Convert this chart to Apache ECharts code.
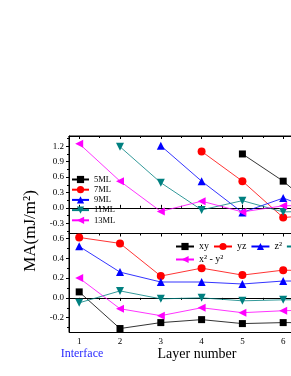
<!DOCTYPE html>
<html>
<head>
<meta charset="utf-8">
<script src="https://cdn.jsdelivr.net/npm/echarts@6/dist/echarts.min.js"></script>
<style>
html,body{margin:0;padding:0;background:#fff;overflow:hidden;}
#c{width:291px;height:376px;}
</style>
</head>
<body>
<div id="c"></div>
<script>
// ---- data ----
const layers = [1, 2, 3, 4, 5, 6, 7];
// top panel: MA per layer for each slab thickness
const ml5  = [null, null, null, null, 1.05, 0.52, -0.15];
const ml7  = [null, null, null, 1.10, 0.52, -0.19, -0.12];
const ml9  = [null, null, 1.21, 0.52, -0.09, 0.19, -0.10];
const ml11 = [null, 1.19, 0.49, -0.04, 0.14, -0.08, -0.06];
const ml13 = [1.25, 0.52, -0.07, 0.13, -0.08, 0.04, 0.05];
// bottom panel: orbital-resolved MA
const xy   = [0.06, -0.31, -0.25, -0.22, -0.26, -0.25, -0.25];
const yz   = [0.61, 0.55, 0.22, 0.30, 0.23, 0.28, 0.27];
const z2   = [0.52, 0.26, 0.16, 0.16, 0.14, 0.17, 0.17];
const xz   = [-0.05, 0.07, -0.01, 0.00, -0.03, -0.02, -0.02];
const x2y2 = [0.20, -0.11, -0.18, -0.10, -0.15, -0.13, -0.12];
// ticks
const xMajor = [1, 2, 3, 4, 5, 6, 7];
const xMinor = [1.5, 2.5, 3.5, 4.5, 5.5, 6.5];
const yTopMajor = [-0.3, 0.0, 0.3, 0.6, 0.9, 1.2];
const yTopMinor = [-0.45, -0.15, 0.15, 0.45, 0.75, 1.05, 1.35];
const yBotMajor = [-0.2, 0.0, 0.2, 0.4, 0.6];
const yBotMinor = [-0.3, -0.1, 0.1, 0.3, 0.5];

const FONT = 'Liberation Serif';
const pairs = arr => layers.map((x, i) => [x, arr[i]]).filter(p => p[1] !== null);

function xAxisSet(grid, showLabels, bottomInside) {
  const base = {type: 'value', gridIndex: grid, min: 0.75, max: 7.25,
    splitLine: {show: false}, axisLine: {show: true, lineStyle: {color: '#000', width: 1}}};
  return [
    Object.assign({}, base, {position: 'bottom',
      axisTick: {show: true, inside: bottomInside, length: 3, customValues: xMajor, lineStyle: {color: '#000'}},
      axisLabel: {show: showLabels, customValues: xMajor, fontFamily: FONT, fontSize: 9, color: '#000', margin: 5,
        formatter: v => String(v)}}),
    Object.assign({}, base, {position: 'bottom', axisLine: {show: false},
      axisTick: {show: true, inside: bottomInside, length: 2, customValues: xMinor, lineStyle: {color: '#000'}},
      axisLabel: {show: false}}),
    Object.assign({}, base, {position: 'top',
      axisTick: {show: true, inside: true, length: 3, customValues: xMajor, lineStyle: {color: '#000'}},
      axisLabel: {show: false}}),
    Object.assign({}, base, {position: 'top', axisLine: {show: false},
      axisTick: {show: true, inside: true, length: 2, customValues: xMinor, lineStyle: {color: '#000'}},
      axisLabel: {show: false}})
  ];
}
function yAxisSet(grid, min, max, major, minor, fmt) {
  const base = {type: 'value', gridIndex: grid, min: min, max: max, position: 'left',
    splitLine: {show: false}, axisLine: {show: true, lineStyle: {color: '#000', width: 1}}};
  return [
    Object.assign({}, base, {
      axisTick: {show: true, inside: false, length: 3, customValues: major, lineStyle: {color: '#000'}},
      axisLabel: {show: true, customValues: major, fontFamily: FONT, fontSize: 9, color: '#000', margin: 5,
        formatter: fmt}}),
    Object.assign({}, base, {axisLine: {show: false},
      axisTick: {show: true, inside: false, length: 2, customValues: minor, lineStyle: {color: '#000'}},
      axisLabel: {show: false}})
  ];
}

function mkSeries(name, arr, color, symbol, rot, xi, yi) {
  return {name: name, type: 'line', xAxisIndex: xi, yAxisIndex: yi, data: pairs(arr),
    symbol: symbol, symbolRotate: rot, symbolSize: symbol === 'rect' ? 7 : 8,
    lineStyle: {color: color, width: 0.8}, itemStyle: {color: color},
    clip: true, silent: true};
}

const chart = echarts.init(document.getElementById('c'), null, {renderer: 'canvas'});
const option = {
  animation: false,
  backgroundColor: '#fff',
  grid: [
    {left: 69, top: 136, width: 265.2, height: 97.5, show: true, borderColor: '#000', borderWidth: 1,
      backgroundColor: 'transparent', containLabel: false, outerBoundsMode: 'none'},
    {left: 69, top: 233.5, width: 265.2, height: 99, show: true, borderColor: '#000', borderWidth: 1,
      backgroundColor: 'transparent', containLabel: false, outerBoundsMode: 'none'}
  ],
  xAxis: [].concat(xAxisSet(0, false, true), xAxisSet(1, true, false)),
  yAxis: [].concat(
    yAxisSet(0, -0.5, 1.4, yTopMajor, yTopMinor, v => v.toFixed(1)),
    yAxisSet(1, -0.35, 0.65, yBotMajor, yBotMinor, v => v.toFixed(1))
  ),
  legend: [
    {orient: 'vertical', left: 71, top: 175, padding: 0, itemWidth: 17, itemHeight: 9, itemGap: 1.2,
      textStyle: {fontFamily: FONT, fontSize: 8.5, color: '#000'},
      data: ['5ML', '7ML', '9ML', '11ML', '13ML']},
    {orient: 'horizontal', left: 175, top: 241.5, width: 250, padding: 0, itemWidth: 18, itemHeight: 9, itemGap: 4,
      textStyle: {fontFamily: FONT, fontSize: 10, color: '#000'},
      data: ['xy', 'yz', 'z²', 'xz']},
    {orient: 'horizontal', left: 175, top: 254.5, padding: 0, itemWidth: 18, itemHeight: 9, itemGap: 4,
      textStyle: {fontFamily: FONT, fontSize: 10, color: '#000'},
      data: ['x² - y²']}
  ],
  series: [
    mkSeries('5ML', ml5, '#000000', 'rect', 0, 0, 0),
    mkSeries('7ML', ml7, '#ff0000', 'circle', 0, 0, 0),
    mkSeries('9ML', ml9, '#0000ff', 'triangle', 0, 0, 0),
    mkSeries('11ML', ml11, '#008080', 'triangle', 180, 0, 0),
    mkSeries('13ML', ml13, '#ff00ff', 'triangle', 90, 0, 0),
    mkSeries('xy', xy, '#000000', 'rect', 0, 4, 2),
    mkSeries('yz', yz, '#ff0000', 'circle', 0, 4, 2),
    mkSeries('z²', z2, '#0000ff', 'triangle', 0, 4, 2),
    mkSeries('xz', xz, '#008080', 'triangle', 180, 4, 2),
    mkSeries('x² - y²', x2y2, '#ff00ff', 'triangle', 90, 4, 2)
  ],
  graphic: [
    {type: 'text', x: 31, y: 231, rotation: Math.PI / 2,
      style: {text: 'MA(mJ/m²)', fontFamily: FONT, fontSize: 17, fill: '#000', align: 'center', verticalAlign: 'middle'}},
    {type: 'text', x: 197, y: 354,
      style: {text: 'Layer number', fontFamily: FONT, fontSize: 14, fill: '#000', align: 'center', verticalAlign: 'middle'}},
    {type: 'text', x: 82, y: 354,
      style: {text: 'Interface', fontFamily: FONT, fontSize: 12, fill: '#2a2aff', align: 'center', verticalAlign: 'middle'}}
  ]
};
chart.setOption(option);
</script>
</body>
</html>
